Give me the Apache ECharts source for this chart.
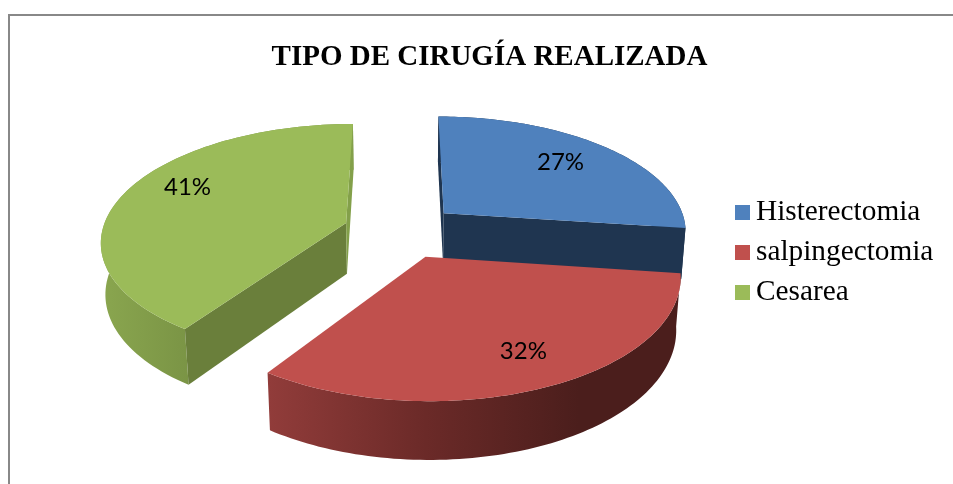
<!DOCTYPE html>
<html>
<head>
<meta charset="utf-8">
<title>Tipo de cirugía realizada</title>
<style>
  html, body { margin: 0; padding: 0; background: #fff; }
  #chart { width: 953px; height: 484px; }
</style>
<script src="https://cdn.jsdelivr.net/npm/echarts@6/dist/echarts.min.js"></script>
</head>
<body>
<div id="chart"></div>
<script>
const chartTitle = 'TIPO DE CIRUGÍA REALIZADA'
const categories = ['Histerectomia', 'salpingectomia', 'Cesarea']
const values = [27.1, 32.4, 40.5]

// estilos de cada porcion
const topColors = ['#4f81bd', '#c0504d', '#9bbb59']
const startEdgeColors = ['#1f3550', '#4a1d1c', '#6a7f3b']
const endEdgeColors = ['#1f3550', '#4a1d1c', '#83a04a']
const wallStops = [
  [[0, '#1f3550'], [1, '#1f3550']],
  [[0, '#913c3a'], [0.38, '#6b2a28'], [0.75, '#4b1e1c'], [1, '#4b1e1c']],
  [[0, '#8aa64f'], [1, '#7a9445']]
]
const wallRange = [[440, 690], [269, 682], [100, 190]]
const labelRadius = [0.73, 0.77, 0.77]
const labelTurn = [-1.5, -2, 8]

// perspectiva de la torta 3D
const originX = 401
const originY = 231
const radius = 244
const explode = 58
const tilt = 0.473
const focal = 1700
const depth = 52
const lift = 26

const total = values.reduce((a, b) => a + b, 0)

function project (x, z, bottom) {
  const s = focal / (focal + z + (bottom ? lift : 0))
  return [originX + x * s, originY - tilt * z * s + (bottom ? depth * s : 0)]
}

function sliceAngles (index) {
  let sum = 0
  for (let i = 0; i < index; i++) sum += values[i]
  return [sum / total * Math.PI * 2, (sum + values[index]) / total * Math.PI * 2]
}

function rimPoint (mid, angle, r, bottom) {
  const x = explode * Math.sin(mid) + r * Math.sin(angle)
  const z = explode * Math.cos(mid) + r * Math.cos(angle)
  return project(x, z, bottom)
}

function area (points) {
  let sum = 0
  points.forEach((p, i) => {
    const q = points[(i + 1) % points.length]
    sum += p[0] * q[1] - q[0] * p[1]
  })
  return sum / 2
}

function renderSlice (index) {
  return function (params, api) {
    const [a0, a1] = sliceAngles(index)
    const mid = (a0 + a1) / 2
    const topArc = []
    const bottomArc = []
    for (let i = 0; i <= 90; i++) {
      const a = a0 + (a1 - a0) * i / 90
      topArc.push(rimPoint(mid, a, radius, false))
      bottomArc.push(rimPoint(mid, a, radius, true))
    }
    const apexTop = rimPoint(mid, 0, 0, false)
    const apexBottom = rimPoint(mid, 0, 0, true)
    const children = [{
      type: 'polygon',
      shape: { points: topArc.concat(bottomArc.slice().reverse()) },
      style: {
        fill: {
          type: 'linear',
          x: wallRange[index][0],
          y: 0,
          x2: wallRange[index][1],
          y2: 0,
          global: true,
          colorStops: wallStops[index].map(s => ({ offset: s[0], color: s[1] }))
        }
      }
    }]
    const startFace = [apexTop, topArc[0], bottomArc[0], apexBottom]
    const endFace = [apexTop, topArc[90], bottomArc[90], apexBottom]
    if (area(startFace) < 0) {
      children.push({ type: 'polygon', shape: { points: startFace }, style: { fill: startEdgeColors[index] } })
    }
    if (area(endFace) > 0) {
      children.push({ type: 'polygon', shape: { points: endFace }, style: { fill: endEdgeColors[index] } })
    }
    children.push({
      type: 'polygon',
      shape: { points: [apexTop].concat(topArc) },
      style: { fill: topColors[index] }
    })
    const labelAngle = mid + labelTurn[index] * Math.PI / 180
    const labelPos = rimPoint(mid, labelAngle, radius * labelRadius[index], false)
    children.push({
      type: 'text',
      x: labelPos[0],
      y: labelPos[1],
      style: {
        text: Math.round(api.value(0) / total * 100) + '%',
        fill: '#000',
        fontFamily: 'Lato',
        fontSize: 24,
        align: 'center',
        verticalAlign: 'middle'
      }
    })
    return { type: 'group', children: children }
  }
}

const chart = echarts.init(document.getElementById('chart'))
chart.setOption({
  animation: false,
  backgroundColor: '#fff',
  title: {
    text: chartTitle,
    left: 484.5,
    top: 38,
    textAlign: 'center',
    textStyle: {
      fontFamily: 'Liberation Serif',
      fontWeight: 'bold',
      fontSize: 29,
      color: '#000'
    }
  },
  legend: {
    data: categories,
    orient: 'vertical',
    left: 730,
    top: 193,
    itemWidth: 15,
    itemHeight: 15,
    itemGap: 11,
    icon: 'rect',
    selectedMode: false,
    textStyle: {
      fontFamily: 'Liberation Serif',
      fontSize: 29.3,
      lineHeight: 29,
      color: '#000',
      padding: [0, 0, 0, 1]
    }
  },
  graphic: [{
    type: 'rect',
    silent: true,
    z: -1,
    shape: { x: 9, y: 15, width: 1000, height: 520 },
    style: { fill: 'none', stroke: '#888', lineWidth: 2 }
  }],
  series: categories.map((name, i) => ({
    type: 'custom',
    name: name,
    coordinateSystem: 'none',
    silent: true,
    itemStyle: { color: topColors[i] },
    renderItem: renderSlice(i),
    data: [values[i]]
  }))
})
</script>
</body>
</html>
